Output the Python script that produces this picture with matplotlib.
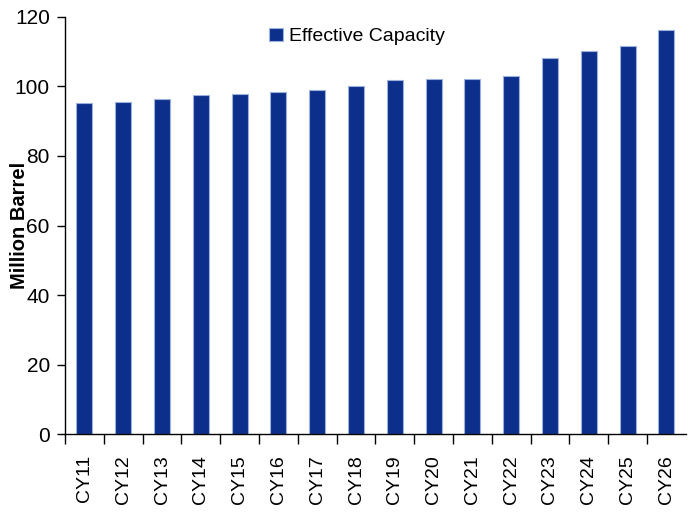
import matplotlib
matplotlib.use("Agg")
import matplotlib.pyplot as plt
import numpy as np

categories = ["CY11", "CY12", "CY13", "CY14", "CY15", "CY16", "CY17", "CY18",
              "CY19", "CY20", "CY21", "CY22", "CY23", "CY24", "CY25", "CY26"]
capacity = [95.1, 95.5, 96.3, 97.6, 97.9, 98.5, 98.9, 100.2,
            101.8, 102.1, 102.0, 103.1, 108.1, 110.3, 111.7, 116.2]
yticks = [0, 20, 40, 60, 80, 100, 120]
series_name = "Effective Capacity"
ylabel = "Million Barrel"

plt.rcParams['font.family'] = ['Liberation Sans', 'DejaVu Sans']

fig = plt.figure(figsize=(6.92, 5.12), dpi=100)
ax = fig.add_axes([0.094, 0.152, 0.897, 0.815])

x = np.arange(len(categories))
ax.bar(x, capacity, width=0.41, color="#0B2F8B", edgecolor="#9DB0DE",
       linewidth=0.8, label=series_name, zorder=2)

ax.set_xlim(-0.5, len(categories) - 0.5)
ax.set_ylim(0, 120)
ax.set_yticks(yticks)
ax.set_yticklabels([str(t) for t in yticks], fontsize=15)

ax.set_xticks(x)
ax.set_xticklabels(categories, rotation=90, fontsize=14)
ax.tick_params(axis='x', which='major', length=0, pad=15)
ax.set_xticks(np.arange(-0.5, len(categories) - 0.5, 1), minor=True)
ax.tick_params(axis='x', which='minor', length=7, width=1, direction='out')
ax.tick_params(axis='y', length=6, width=1, direction='out', pad=5)

for s in ['top', 'right']:
    ax.spines[s].set_visible(False)
for s in ['left', 'bottom']:
    ax.spines[s].set_linewidth(1)

ax.set_ylabel(ylabel, fontsize=14.5, fontweight='bold', labelpad=-10)

ax.legend(loc='upper center', bbox_to_anchor=(0.47, 1.0), frameon=False,
          fontsize=14, handlelength=0.7, handleheight=0.7, handletextpad=0.3,
          borderaxespad=0.15)

fig.savefig("out.png", dpi=100)
